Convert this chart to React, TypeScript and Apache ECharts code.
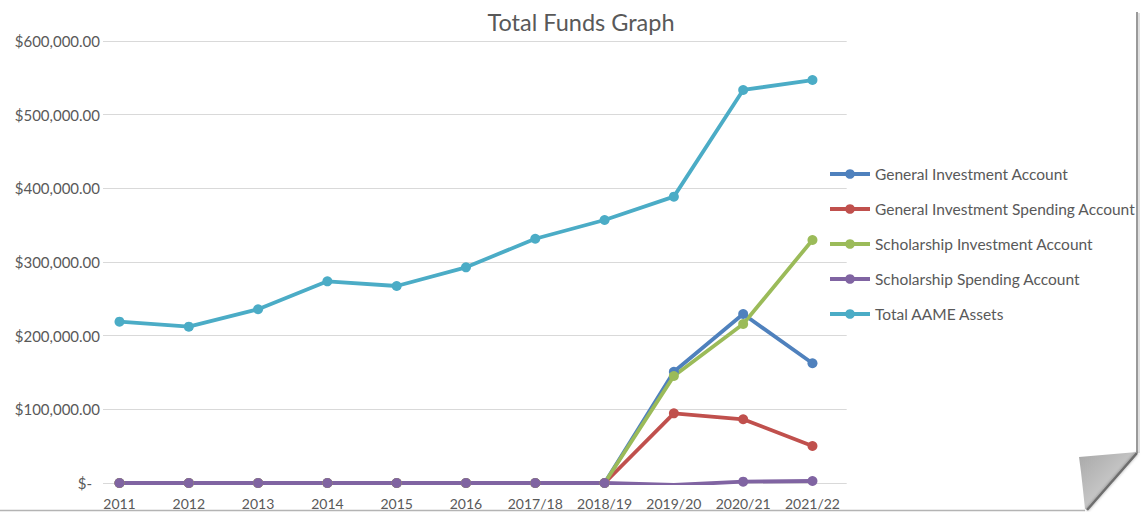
import React, { useEffect, useRef } from 'react';
import * as echarts from 'echarts';

const categories = ['2011', '2012', '2013', '2014', '2015', '2016', '2017/18', '2018/19', '2019/20', '2020/21', '2021/22'];
const seriesNames = [
  'General Investment Account',
  'General Investment Spending Account',
  'Scholarship Investment Account',
  'Scholarship Spending Account',
  'Total AAME Assets',
];
const generalInvestment = [0, 0, 0, 0, 0, 0, 0, 0, 151000, 229400, 162500];
const generalSpending = [0, 0, 0, 0, 0, 0, 0, 0, 94600, 86500, 50200];
const scholarshipInvestment = [0, 0, 0, 0, 0, 0, 0, 0, 145300, 215800, 329900];
const scholarshipSpending = [0, 0, 0, 0, 0, 0, 0, 0, -2700, 1800, 2700];
const totalAssets = [219000, 212200, 235800, 273800, 267400, 292800, 331600, 357000, 388700, 533500, 547000];
const colors = ['#4F81BD', '#C0504D', '#9BBB59', '#8064A2', '#4BACC6'];
const titleText = 'Total Funds Graph';

const FONT = 'Lato';
const TEXT_COLOR = '#595959';

function fmtMoney(v: number): string {
  if (v === 0) return '{z|$-}';
  return '$' + v.toLocaleString('en-US', { minimumFractionDigits: 2, maximumFractionDigits: 2 });
}

export default function App() {
  const ref = useRef<HTMLDivElement>(null);
  useEffect(() => {
    if (!ref.current) return;
    const chart = echarts.init(ref.current, undefined, { renderer: 'svg' });
    const allValues = [generalInvestment, generalSpending, scholarshipInvestment, scholarshipSpending, totalAssets];
    const option: any = {
      animation: false,
      backgroundColor: '#ffffff',
      color: colors,
      textStyle: { fontFamily: FONT },
      grid: { left: 103, right: 294.3, top: 41, bottom: 29, containLabel: false },
      legend: {
        orient: 'vertical',
        left: 828,
        top: 166,
        itemWidth: 40,
        itemHeight: 12,
        itemGap: 19,
        padding: 0,
        lineStyle: { width: 4 },
        textStyle: { color: TEXT_COLOR, fontSize: 15.5, fontFamily: FONT },
        data: seriesNames,
      },
      xAxis: {
        type: 'value',
        min: -0.238,
        max: 10.494,
        axisLine: { show: false },
        axisTick: { show: false },
        splitLine: { show: false },
        axisLabel: {
          customValues: categories.map((_, i) => i),
          formatter: (v: number) => categories[Math.round(v)] ?? '',
          color: TEXT_COLOR,
          fontSize: 14,
          fontFamily: FONT,
          margin: 13,
        },
      },
      yAxis: {
        type: 'value',
        min: 0,
        max: 600000,
        interval: 100000,
        axisLine: { show: false },
        axisTick: { show: false },
        splitLine: { lineStyle: { color: '#d9d9d9', width: 1 } },
        axisLabel: {
          formatter: fmtMoney,
          color: TEXT_COLOR,
          fontSize: 15,
          fontFamily: FONT,
          margin: 3,
          rich: { z: { color: TEXT_COLOR, fontSize: 15, fontFamily: FONT, padding: [0, 8, 0, 0] } },
        },
      },
      series: seriesNames.map((name, si) => ({
        name,
        type: 'line',
        data: categories.map((_, i) => [i, allValues[si][i]]),
        symbol: 'circle',
        symbolSize: 10,
        showSymbol: true,
        lineStyle: { width: 3.8, color: colors[si] },
        itemStyle: { color: colors[si] },
        emphasis: { disabled: true },
      })),
      graphic: [
        {
          type: 'text',
          x: 581,
          y: 22,
          style: {
            text: titleText,
            fill: TEXT_COLOR,
            fontSize: 23.5,
            fontFamily: FONT,
            align: 'center',
            verticalAlign: 'middle',
          },
        },
        {
          type: 'line',
          shape: { x1: 1137, y1: 12, x2: 1137, y2: 453 },
          style: { stroke: '#9a9a9a', lineWidth: 2 },
        },
        {
          type: 'line',
          shape: { x1: 1139, y1: 13, x2: 1139, y2: 453 },
          style: { stroke: '#d4d4d4', lineWidth: 1.5 },
        },
        {
          type: 'line',
          shape: { x1: 0, y1: 510.5, x2: 1085, y2: 510.5 },
          style: { stroke: '#b4b4b4', lineWidth: 1.5 },
        },
        {
          type: 'polygon',
          shape: {
            points: [
              [1079, 457], [1137, 452], [1134, 458], [1088, 509], [1085, 509], [1083, 490], [1081, 472],
            ],
          },
          style: {
            fill: new echarts.graphic.LinearGradient(0, 0, 1, 1, [
              { offset: 0, color: '#a8a8a8' },
              { offset: 0.5, color: '#c4c4c4' },
              { offset: 1, color: '#e6e6e6' },
            ]),
          },
        },
        {
          type: 'polyline',
          shape: { points: [[1137, 453], [1087, 510]] },
          style: { stroke: '#6e6e6e', lineWidth: 2.5, shadowBlur: 3, shadowColor: 'rgba(0,0,0,0.4)' },
        },
      ],
    };
    chart.setOption(option);
    return () => chart.dispose();
  }, []);
  return (
    <div
      ref={ref}
      style={{ position: 'fixed', left: 0, top: 0, width: 1141, height: 512, background: '#fff' }}
    />
  );
}
